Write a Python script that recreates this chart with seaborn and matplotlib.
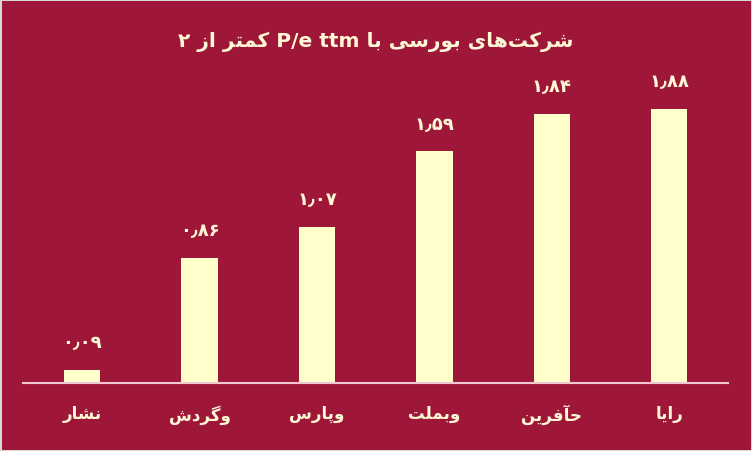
import seaborn as sns
import matplotlib.pyplot as plt

# data
companies = ['نشار', 'وگردش', 'وپارس', 'وبملت', 'حآفرین', 'رایا']
pe_ttm = [0.09, 0.86, 1.07, 1.59, 1.84, 1.88]

BG = '#9E1739'
BAR = '#FFFFCC'
TXT = '#FFF8D6'

# minimal persian shaping (matplotlib has no bidi / joining)
FORMS = {
    'ا': ('\uFE8D', '\uFE8E', None, None),
    'آ': ('\uFE81', '\uFE82', None, None),
    'د': ('\uFEA9', '\uFEAA', None, None),
    'ر': ('\uFEAD', '\uFEAE', None, None),
    'ز': ('\uFEAF', '\uFEB0', None, None),
    'و': ('\uFEED', '\uFEEE', None, None),
    'ب': ('\uFE8F', '\uFE90', '\uFE91', '\uFE92'),
    'پ': ('\uFB56', '\uFB57', '\uFB58', '\uFB59'),
    'ت': ('\uFE95', '\uFE96', '\uFE97', '\uFE98'),
    'ح': ('\uFEA1', '\uFEA2', '\uFEA3', '\uFEA4'),
    'س': ('\uFEB1', '\uFEB2', '\uFEB3', '\uFEB4'),
    'ش': ('\uFEB5', '\uFEB6', '\uFEB7', '\uFEB8'),
    'ف': ('\uFED1', '\uFED2', '\uFED3', '\uFED4'),
    'ک': ('\uFB8E', '\uFB8F', '\uFB90', '\uFB91'),
    'گ': ('\uFB92', '\uFB93', '\uFB94', '\uFB95'),
    'ل': ('\uFEDD', '\uFEDE', '\uFEDF', '\uFEE0'),
    'م': ('\uFEE1', '\uFEE2', '\uFEE3', '\uFEE4'),
    'ن': ('\uFEE5', '\uFEE6', '\uFEE7', '\uFEE8'),
    'ه': ('\uFEE9', '\uFEEA', '\uFEEB', '\uFEEC'),
    'ی': ('\uFBFC', '\uFBFD', '\uFBFE', '\uFBFF'),
}


def fa(s):
    out = []
    for i, c in enumerate(s):
        if c not in FORMS:
            if c != '\u200c':
                out.append(c)
            continue
        prev = s[i - 1] if i > 0 else ''
        nxt = s[i + 1] if i + 1 < len(s) else ''
        pj = prev in FORMS and FORMS[prev][2] is not None
        nj = FORMS[c][2] is not None and nxt in FORMS
        iso, fin, ini, med = FORMS[c]
        if pj and nj:
            out.append(med)
        elif pj:
            out.append(fin)
        elif nj:
            out.append(ini)
        else:
            out.append(iso)
    return ''.join(out[::-1])


digits = str.maketrans('0123456789.', '۰۱۲۳۴۵۶۷۸۹٫')

sns.set_style('white')
plt.rcParams['font.family'] = ['DejaVu Sans']

fig, ax = plt.subplots(figsize=(7.52, 4.52), dpi=100)
fig.patch.set_facecolor(BG)
fig.patch.set_edgecolor('#D8D8D8')
fig.patch.set_linewidth(2)
ax.set_facecolor(BG)
ax.set_position([0.031, 0.150, 0.937, 0.711])

labels = [fa(c) for c in companies]
sns.barplot(x=labels, y=pe_ttm, color=BAR, saturation=1, width=0.31,
            linewidth=0, ax=ax)

for i, v in enumerate(pe_ttm):
    ax.annotate(f'{v:.2f}'.translate(digits), (i, v), xytext=(0, 20),
                textcoords='offset points', ha='center', va='center',
                color=TXT, fontsize=13, fontweight='bold')

ax.set_ylim(0, 2.2)
ax.set_xlim(-0.5, 5.5)
ax.set_yticks([])
for side in ['top', 'left', 'right']:
    ax.spines[side].set_visible(False)
ax.spines['bottom'].set_color('#F0C8D2')
ax.spines['bottom'].set_linewidth(1.5)
ax.tick_params(axis='x', length=0, pad=15, labelsize=12, labelcolor=TXT)
for t in ax.get_xticklabels():
    t.set_fontweight('bold')

title = fa('کمتر از ۲') + ' P/e ttm ' + fa('شرکت‌های بورسی با')
fig.text(0.5, 0.907, title, ha='center', va='center', color=TXT,
         fontsize=14.5, fontweight='bold')

fig.savefig('out.png', dpi=100, facecolor=BG, edgecolor=fig.get_edgecolor())
